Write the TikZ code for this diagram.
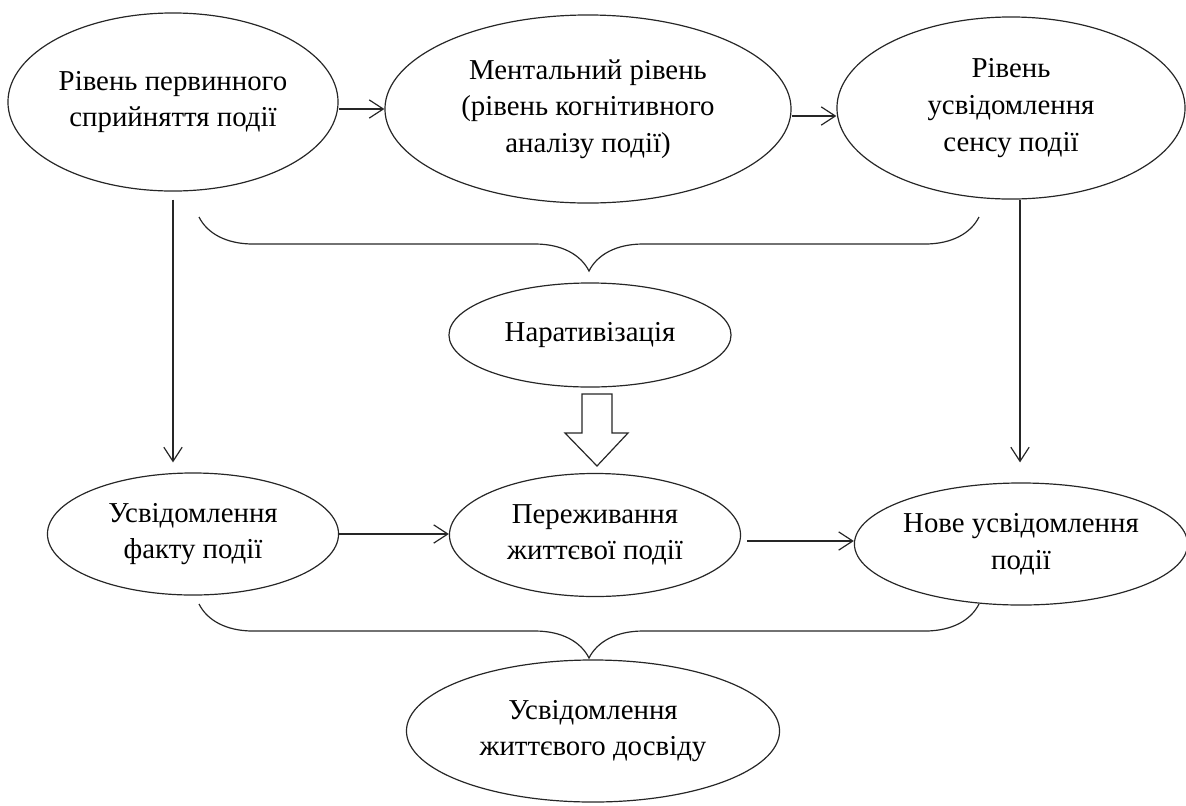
\documentclass[tikz,border=0pt]{standalone}
\usepackage{fontspec}
\setmainfont{Liberation Serif}
\usetikzlibrary{arrows.meta,shapes,decorations.pathreplacing}
\tikzset{
  basic/.style  = {draw=black!85, line width=0.85pt, ellipse, inner sep=0pt, align=center, font=\fontsize{20.5}{26}\selectfont},
  arr/.style    = {draw=black!85, line width=0.85pt, -{Straight Barb[length=10pt,width=13pt]}},
  brc/.style    = {draw=black!85, line width=0.85pt, decorate, decoration={brace, mirror, amplitude=1.35cm}},
  blk/.style    = {draw=black!85, line width=0.85pt, fill=white}
}

\begin{document}
\begin{tikzpicture}[x=0.025cm,y=-0.025cm]
    \useasboundingbox (0,0) rectangle (1186,805);

    % top row
    \node[basic, minimum width=8.25cm, minimum height=4.45cm] (e1) at (173,102) {Рівень первинного\\сприйняття події};
    \node[basic, minimum width=10.15cm, minimum height=4.7cm] (e2) at (588,109) {Ментальний рівень\\(рівень когнітивного\\аналізу події)};
    \node[basic, minimum width=8.7cm, minimum height=4.55cm] (e3) at (1011,108) {Рівень\\усвідомлення\\сенсу події};

    % middle
    \node[basic, minimum width=7.05cm, minimum height=2.6cm] (nar) at (590,335) {Наративізація};

    % bottom row
    \node[basic, minimum width=7.275cm, minimum height=3.05cm] (e4) at (193,534) {Усвідомлення\\факту події};
    \node[basic, minimum width=7.275cm, minimum height=3.075cm] (e5) at (595,535) {Переживання\\життєвої події};
    \node[basic, minimum width=8.1cm, minimum height=3.05cm] (e6) at (1021,544) {Нове усвідомлення\\події};
    \node[basic, minimum width=9.325cm, minimum height=3.55cm] (e7) at (593,731) {Усвідомлення\\життєвого досвіду};

    % brace ends
    \coordinate (tb1) at (199,217);
    \coordinate (tb2) at (979,217);
    \coordinate (bb1) at (199,604);
    \coordinate (bb2) at (979,604);
    \coordinate (ba) at (597,394);

    \draw[arr] (e2.west -| e1.east) -- (e2.west);
    \draw[arr] ([yshift=-0.175cm]e2.east) -- ([yshift=-0.175cm]e2.east -| e3.west);
    \draw[arr] (e4.east) -- (e4.east -| e5.west);
    \draw[arr, shorten <=0.15cm] ([yshift=-0.15cm]e5.east) -- ([yshift=-0.15cm]e5.east -| e6.west);

    \draw[arr, shorten <=0.2cm, shorten >=0.25cm] (e1.south) -- (e1.south |- e4.north);
    \draw[arr, shorten >=0.5cm] ([xshift=0.225cm]e3.south) -- ([xshift=0.225cm]e3.south |- e6.north);

    \draw[brc] (tb1) -- (tb2);
    \draw[brc] (bb1) -- (bb2);

    % hollow arrow
    \draw[blk, shift={(ba)}] (-15,0) -- (-15,39) -- (-32,39) -- (0,72) -- (31,39) -- (15,39) -- (15,0) -- cycle;
\end{tikzpicture}
\end{document}
